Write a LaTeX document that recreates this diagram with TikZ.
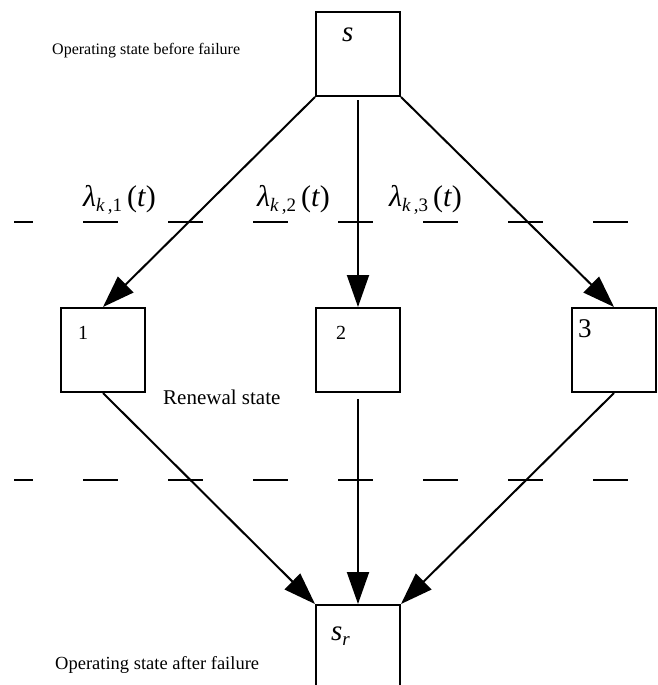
\documentclass[tikz,border=0pt]{standalone}
\usepackage{fontspec}
\setmainfont{Liberation Serif}
\usetikzlibrary{arrows.meta,calc}
\newcommand\lamlbl[1]{{\fontsize{30}{30}\selectfont\itshape λ}\raisebox{-5pt}{\fontsize{19}{19}\selectfont\itshape k\,\upshape,#1}\hspace{5pt}{\fontsize{30}{30}\selectfont(\itshape t\/\upshape)}}
\begin{document}
\begin{tikzpicture}[x=1pt,y=-1pt,
  box/.style={draw,line width=2pt,minimum width=84pt,minimum height=84pt,inner sep=0pt,anchor=north west},
  conn/.style={line width=2pt,-{Triangle[length=32pt,width=22pt]}},
  guide/.style={line width=2pt,dash pattern=on 35pt off 50pt,dash phase=16pt},
  lbl/.style={inner sep=0pt,anchor=base west},
]
\useasboundingbox (0,0) rectangle (657,685);
\clip (0,0) rectangle (657,685);
% boxes
\node[box] (s) at (315,11) {};
\node[box] (b1) at (60,307) {};
\node[box] (b2) at (315,307) {};
\node[box] (b3) at (571,307) {};
\node[box,minimum height=100pt] (sr) at (315,604) {};
% box labels
\node[lbl,font=\fontsize{29}{29}\selectfont\itshape] (sl) at (342,42) {s};
\node[lbl,font=\fontsize{20}{20}\selectfont] (l1) at (78,339) {1};
\node[lbl,font=\fontsize{20}{20}\selectfont] (l2) at (336,339) {2};
\node[lbl,font=\fontsize{27}{27}\selectfont] (l3) at (578,337) {3};
\node[lbl] (srl) at (331,640) {\fontsize{29}{29}\selectfont\itshape s\raisebox{-5pt}{\fontsize{19}{19}\selectfont r}};
% rate labels
\node[lbl] (r1) at (83,206) {\lamlbl{1}};
\node[lbl] (r2) at (257,206) {\lamlbl{2}};
\node[lbl] (r3) at (389,206) {\lamlbl{3}};
% descriptive texts
\node[lbl,font=\fontsize{16}{16}\selectfont] (tb) at (52,55) {Operating state before failure};
\node[lbl,font=\fontsize{21}{21}\selectfont] (tr) at (163,404) {Renewal state};
\node[lbl,font=\fontsize{18.5}{18.5}\selectfont] (ta) at (55,669) {Operating state after failure};
% dashed guide lines
\coordinate (g1a) at (14,222); \coordinate (g1b) at (629,222);
\coordinate (g2a) at (14,480); \coordinate (g2b) at (629,480);
\draw[guide] (g1a) -- (g1b);
\draw[guide] (g2a) -- (g2b);
% connectors
\draw[conn] (s.south west) -- (b1.north);
\draw[conn] ($(s.south)+(0,3)$) -- (b2.north);
\draw[conn] (s.south east) -- (b3.north);
\draw[conn] (b1.south) -- (sr.north west);
\draw[conn] ($(b2.south)+(0,6)$) -- (sr.north);
\draw[conn] (b3.south) -- (sr.north east);
\end{tikzpicture}
\end{document}
